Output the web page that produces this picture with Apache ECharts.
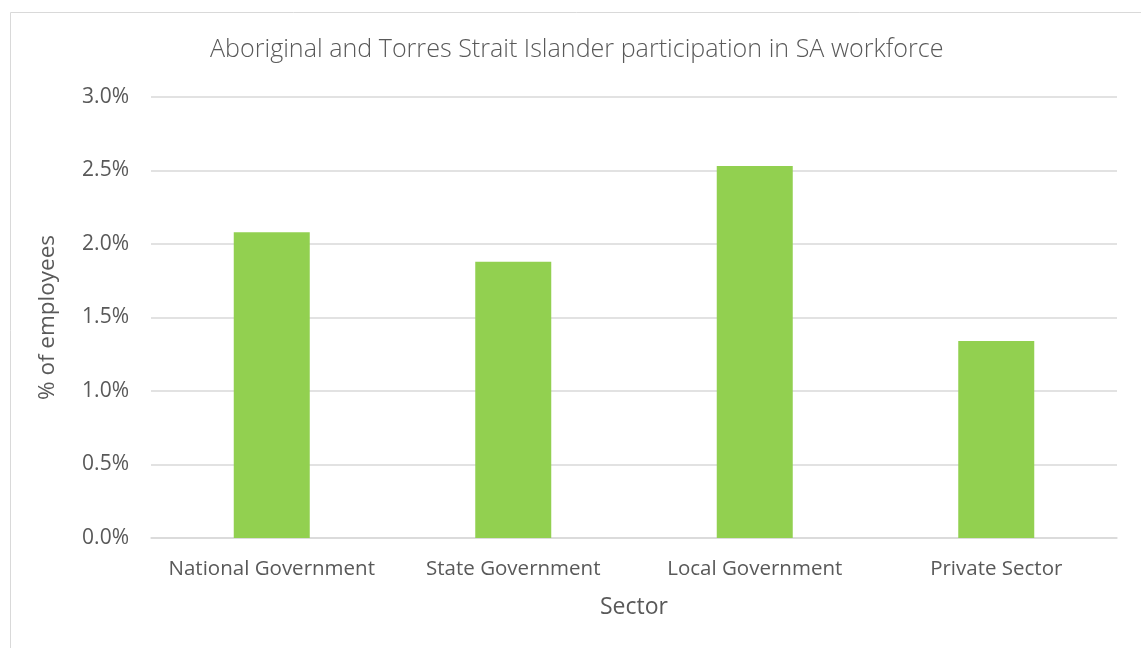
<!DOCTYPE html>
<html><head><meta charset="utf-8">
<script src="https://cdn.jsdelivr.net/npm/echarts@6/dist/echarts.min.js"></script>
<style>html,body{margin:0;padding:0;background:#fff;overflow:hidden}#c{width:1141px;height:648px}</style>
</head><body><div id="c"></div>
<script>
const categories = ["National Government", "State Government", "Local Government", "Private Sector"];
const values = [2.08, 1.88, 2.53, 1.34];
const yTicks = { min: 0, max: 3.0, interval: 0.5 };
const titleText = "Aboriginal and Torres Strait Islander participation in SA workforce";
const font = "'Open Sans', 'Noto Sans', sans-serif";
const chart = echarts.init(document.getElementById('c'), null, {renderer: 'canvas'});
chart.setOption({
  animation: false,
  graphic: [{type: 'rect', left: 8, top: 10, shape: {width: 1150, height: 660}, style: {fill: 'none', stroke: '#d9d9d9', lineWidth: 1}, silent: true, z: -1}],
  title: {text: titleText, left: 205, top: 32, textStyle: {fontFamily: font, fontWeight: 300, fontSize: 25.1, color: '#595959'}},
  grid: {left: 151, right: 24, top: 97, bottom: 110, containLabel: false},
  xAxis: {type: 'category', data: categories, name: 'Sector', nameLocation: 'middle', nameGap: 58,
    nameTextStyle: {fontFamily: font, fontSize: 23, color: '#595959'},
    axisLine: {show: true, lineStyle: {color: '#d9d9d9', width: 1.5}}, axisTick: {show: false},
    axisLabel: {interval: 0, fontFamily: font, fontSize: 20.5, color: '#595959', margin: 21}},
  yAxis: {type: 'value', min: yTicks.min, max: yTicks.max, interval: yTicks.interval,
    name: '% of employees', nameLocation: 'middle', nameGap: 92, nameRotate: 90,
    nameTextStyle: {fontFamily: font, fontSize: 22.5, color: '#595959'},
    axisLine: {show: false}, axisTick: {show: false},
    axisLabel: {fontFamily: font, fontSize: 21, color: '#595959', margin: 22, formatter: v => v.toFixed(1) + '%'},
    splitLine: {lineStyle: {color: '#d9d9d9', width: 1.5}}},
  series: [{type: 'bar', data: values, barWidth: 76, itemStyle: {color: '#92D050'}}]
});
</script></body></html>
